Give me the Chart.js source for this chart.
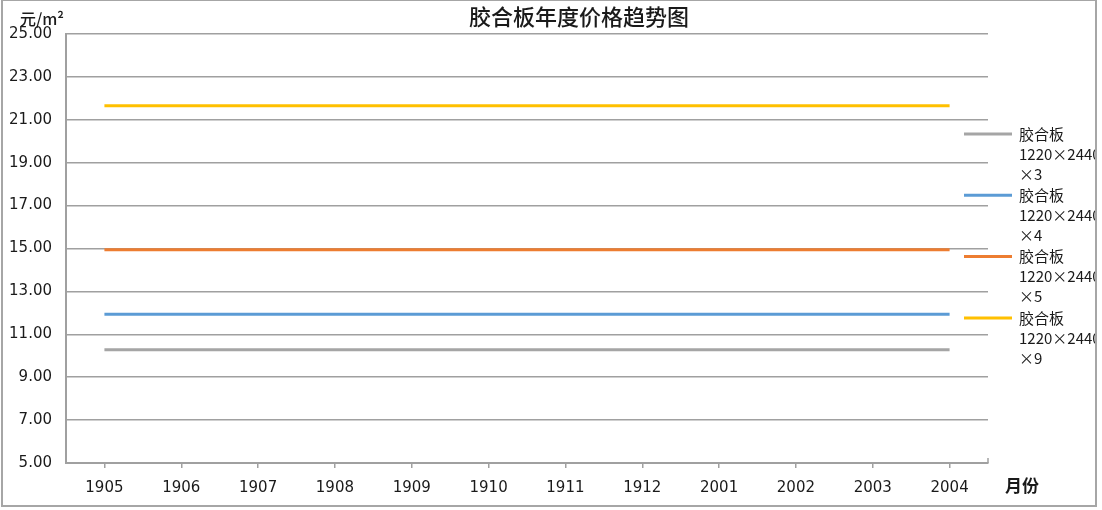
<!DOCTYPE html>
<html>
<head>
<meta charset="utf-8">
<script src="https://cdn.jsdelivr.net/npm/chart.js@4/dist/chart.umd.min.js"></script>
<style>
  html, body { margin: 0; padding: 0; background: #fff; }
  #wrap { width: 1102px; height: 510px; }
</style>
</head>
<body>
<div id="wrap"><canvas id="priceChart" width="1102" height="510"></canvas></div>
<script>
// 胶合板年度价格趋势图

const months = ['1905', '1906', '1907', '1908', '1909', '1910', '1911', '1912', '2001', '2002', '2003', '2004'];

const seriesNames = ['胶合板1220×2440×3', '胶合板1220×2440×4', '胶合板1220×2440×5', '胶合板1220×2440×9'];
const price3 = [10.28, 10.28, 10.28, 10.28, 10.28, 10.28, 10.28, 10.28, 10.28, 10.28, 10.28, 10.28];
const price4 = [11.93, 11.93, 11.93, 11.93, 11.93, 11.93, 11.93, 11.93, 11.93, 11.93, 11.93, 11.93];
const price5 = [14.94, 14.94, 14.94, 14.94, 14.94, 14.94, 14.94, 14.94, 14.94, 14.94, 14.94, 14.94];
const price9 = [21.66, 21.66, 21.66, 21.66, 21.66, 21.66, 21.66, 21.66, 21.66, 21.66, 21.66, 21.66];

const yTicks = [5, 7, 9, 11, 13, 15, 17, 19, 21, 23, 25];

const colors = ['#a5a5a5', '#5b9bd5', '#ed7d31', '#ffc000'];
const axisColor = '#a0a0a0';

const datasets = [price3, price4, price5, price9].map((data, i) => ({
  label: seriesNames[i],
  data,
  borderColor: colors[i],
  backgroundColor: colors[i],
  borderWidth: 3,
  pointRadius: 0,
  tension: 0
}));

// frame, title, axis units and the legend on the right
const decorations = {
  id: 'decorations',
  beforeDraw(chart) {
    const ctx = chart.ctx;
    ctx.save();
    ctx.fillStyle = '#fff';
    ctx.fillRect(0, 0, chart.width, chart.height);
    ctx.strokeStyle = '#a6a6a6';
    ctx.lineWidth = 2;
    ctx.strokeRect(2, 0, 1094, 506);
    ctx.restore();
  },
  afterDraw(chart) {
    const ctx = chart.ctx;
    const area = chart.chartArea;
    ctx.save();
    ctx.fillStyle = '#1a1a1a';
    ctx.textBaseline = 'middle';

    ctx.textAlign = 'center';
    ctx.font = '500 22px "Noto Sans CJK SC"';
    ctx.fillText('胶合板年度价格趋势图', 579, 17);

    ctx.textAlign = 'left';
    ctx.font = '500 16px "Noto Sans CJK SC"';
    ctx.fillText('元/m²', 20, 19);

    ctx.font = 'bold 17px "Noto Sans CJK SC"';
    ctx.fillText('月份', 1005, 486);

    // small upturned end of the x axis
    ctx.strokeStyle = axisColor;
    ctx.lineWidth = 1.5;
    ctx.beginPath();
    ctx.moveTo(area.right, area.bottom);
    ctx.lineTo(area.right, area.bottom - 5);
    ctx.stroke();

    // legend, clipped by the frame like the original
    ctx.beginPath();
    ctx.rect(0, 0, 1095, chart.height);
    ctx.clip();
    chart.data.datasets.forEach((ds, i) => {
      const y = 134 + i * 61.3;
      ctx.strokeStyle = ds.borderColor;
      ctx.lineWidth = 3;
      ctx.beginPath();
      ctx.moveTo(964, y);
      ctx.lineTo(1012, y);
      ctx.stroke();
      const name = ds.label;
      const lines = [name.slice(0, 3), name.slice(3, 12), name.slice(12)];
      ctx.fillStyle = '#1a1a1a';
      ctx.font = '15px "Noto Sans CJK SC"';
      lines.forEach((t, j) => ctx.fillText(t, 1019, y + j * 20));
    });
    ctx.restore();
  }
};

new Chart(document.getElementById('priceChart'), {
  type: 'line',
  data: { labels: months, datasets },
  options: {
    responsive: false,
    animation: false,
    layout: { padding: { left: 0, right: 114, top: 34, bottom: 0 } },
    plugins: {
      legend: { display: false },
      title: { display: false },
      tooltip: { enabled: false }
    },
    scales: {
      x: {
        offset: true,
        grid: { drawOnChartArea: false, drawTicks: true, tickLength: 5, color: axisColor, lineWidth: 1.5 },
        border: { color: axisColor, width: 2 },
        ticks: { color: '#1a1a1a', padding: 11, font: { size: 15, family: 'DejaVu Sans' }, maxRotation: 0 },
        afterFit: s => { s.height = 47; }
      },
      y: {
        min: 5,
        max: 25,
        afterBuildTicks: s => { s.ticks = yTicks.map(v => ({ value: v })); },
        grid: { color: axisColor, lineWidth: 1.5, drawTicks: false },
        border: { color: axisColor, width: 2 },
        ticks: {
          color: '#1a1a1a',
          padding: 14,
          font: { size: 15, family: 'DejaVu Sans' },
          callback: v => Number(v).toFixed(2)
        },
        afterFit: s => { s.width = 66; }
      }
    }
  },
  plugins: [decorations]
});
</script>
</body>
</html>
